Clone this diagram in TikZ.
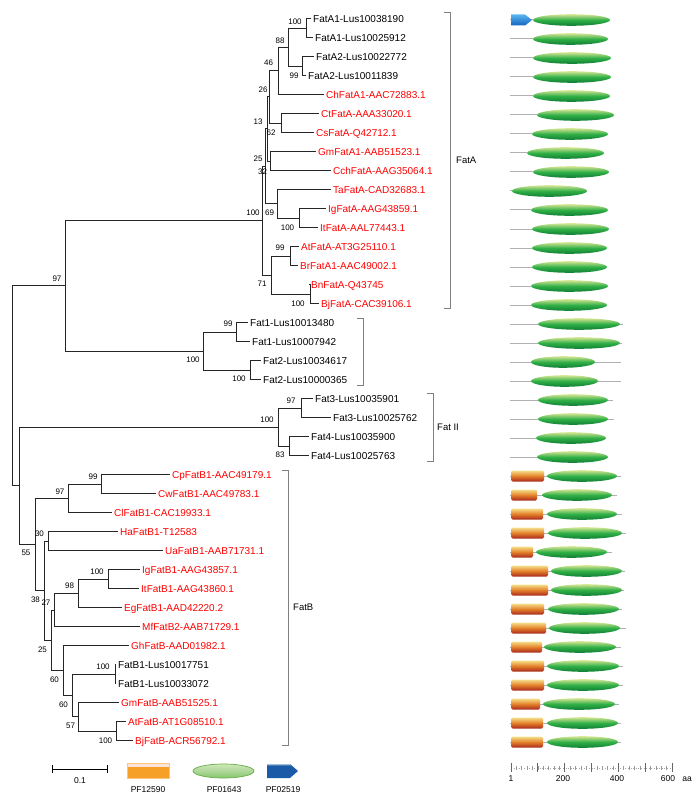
\documentclass[tikz,border=0pt]{standalone}
\usepackage{fontspec}
\setmainfont{Liberation Sans}
\usetikzlibrary{calc}
\definecolor{tred}{RGB}{255,0,0}
\definecolor{ellTop}{RGB}{214,230,150}
\definecolor{ellMid}{RGB}{48,176,70}
\definecolor{ellBot}{RGB}{16,126,52}
\definecolor{recTop}{RGB}{246,224,140}
\definecolor{recMid}{RGB}{228,128,42}
\definecolor{recBot}{RGB}{168,40,28}
\definecolor{bbgray}{RGB}{176,176,176}
\definecolor{legOr}{RGB}{247,160,40}
\definecolor{legOrTop}{RGB}{252,228,216}
\definecolor{legGrTop}{RGB}{206,232,184}
\definecolor{legGrBot}{RGB}{136,198,108}
\definecolor{legGrLine}{RGB}{104,172,72}
\definecolor{legBlue}{RGB}{27,90,166}
\definecolor{arrTop}{RGB}{90,180,240}
\definecolor{arrBot}{RGB}{20,100,190}
\newcommand\protrow[5]{%
  \draw[bb] (510,#1) -- (#2,#1);
  \shade[ellsh] ({((#3)+(#4))/2},#1) ellipse [x radius={((#4)-(#3))/2*1pt}, y radius=5.8pt];
  \ifnum#5>0 \shade[recsh] (511,{#1-5.5}) rectangle (#5,{#1+5.5});\fi
}
\begin{document}
\begin{tikzpicture}[x=1pt,y=-1pt,
  leaf/.style={anchor=west, inner xsep=2.5pt, inner ysep=0pt, font=\fontsize{10}{12}\selectfont, text height=7.2pt, text depth=0pt},
  leafr/.style={leaf, text=tred},
  bs/.style={inner sep=0pt, font=\fontsize{8}{9.6}\selectfont, text height=5.8pt, text depth=0pt},
  br/.style={draw=black!85, line width=0.8pt},
  brk/.style={draw=black!50, line width=1pt},
  clab/.style={anchor=west, inner sep=0pt, font=\fontsize{9.5}{11}\selectfont, text height=6.9pt, text depth=0pt},
  bb/.style={draw=bbgray, line width=1pt},
  ellsh/.style={top color=ellTop, bottom color=ellBot, middle color=ellMid},
  recsh/.style={top color=recTop, bottom color=recBot, middle color=recMid, rounded corners=1.5pt},
  axl/.style={inner sep=0pt, font=\fontsize{8.5}{10}\selectfont, text height=6.2pt, text depth=0pt},
  legl/.style={inner sep=0pt, font=\fontsize{8.5}{10}\selectfont, text height=6.2pt, text depth=0pt}
]
\useasboundingbox (0,0) rectangle (700,810);

% ---------- leaves ----------
\node[leaf]  (l1)  at (310.5,18.5)  {FatA1-Lus10038190};
\node[leaf]  (l2)  at (312.5,37.5)  {FatA1-Lus10025912};
\node[leaf]  (l3)  at (313.5,56.5)  {FatA2-Lus10022772};
\node[leaf]  (l4)  at (305.5,75.5)  {FatA2-Lus10011839};
\node[leafr] (l5)  at (323.5,94.5)  {ChFatA1-AAC72883.1};
\node[leafr] (l6)  at (318.5,113.5) {CtFatA-AAA33020.1};
\node[leafr] (l7)  at (313.5,132.5) {CsFatA-Q42712.1};
\node[leafr] (l8)  at (315.5,151.5) {GmFatA1-AAB51523.1};
\node[leafr] (l9)  at (330.5,170.5) {CchFatA-AAG35064.1};
\node[leafr] (l10) at (330.5,189.5) {TaFatA-CAD32683.1};
\node[leafr] (l11) at (325.5,208.5) {IgFatA-AAG43859.1};
\node[leafr] (l12) at (317.5,227.5) {ItFatA-AAL77443.1};
\node[leafr] (l13) at (298.5,246.5) {AtFatA-AT3G25110.1};
\node[leafr] (l14) at (297.5,265.5) {BrFatA1-AAC49002.1};
\node[leafr] (l15) at (308.5,284.5) {BnFatA-Q43745};
\node[leafr] (l16) at (318.5,303.5) {BjFatA-CAC39106.1};
\node[leaf]  (l17) at (247.5,322.5) {Fat1-Lus10013480};
\node[leaf]  (l18) at (249.5,341.5) {Fat1-Lus10007942};
\node[leaf]  (l19) at (260.5,360.5) {Fat2-Lus10034617};
\node[leaf]  (l20) at (260.5,379.5) {Fat2-Lus10000365};
\node[leaf]  (l21) at (312.5,398.5) {Fat3-Lus10035901};
\node[leaf]  (l22) at (330.5,417.5) {Fat3-Lus10025762};
\node[leaf]  (l23) at (308.5,436.5) {Fat4-Lus10035900};
\node[leaf]  (l24) at (308.5,455.5) {Fat4-Lus10025763};
\node[leafr] (l25) at (169.5,474.5) {CpFatB1-AAC49179.1};
\node[leafr] (l26) at (155.5,493.5) {CwFatB1-AAC49783.1};
\node[leafr] (l27) at (111.5,512.5) {ClFatB1-CAC19933.1};
\node[leafr] (l28) at (117.5,531.5) {HaFatB1-T12583};
\node[leafr] (l29) at (162.5,550.5) {UaFatB1-AAB71731.1};
\node[leafr] (l30) at (139.5,569.5) {IgFatB1-AAG43857.1};
\node[leafr] (l31) at (138.5,588.5) {ItFatB1-AAG43860.1};
\node[leafr] (l32) at (121.5,607.5) {EgFatB1-AAD42220.2};
\node[leafr] (l33) at (139.5,626.5) {MfFatB2-AAB71729.1};
\node[leafr] (l34) at (128.5,645.5) {GhFatB-AAD01982.1};
\node[leaf]  (l35) at (115.5,664.5) {FatB1-Lus10017751};
\node[leaf]  (l36) at (115.5,683.5) {FatB1-Lus10033072};
\node[leafr] (l37) at (118.5,702.5) {GmFatB-AAB51525.1};
\node[leafr] (l38) at (125.5,721.5) {AtFatB-AT1G08510.1};
\node[leafr] (l39) at (132.5,740.5) {BjFatB-ACR56792.1};

% ---------- internal nodes ----------
\coordinate (nA) at (306,28);
\coordinate (nB) at (302,66);
\coordinate (n88) at (288,47);
\coordinate (n46) at (278,70.75);
\coordinate (nC) at (281,123);
\coordinate (n26) at (269,96.9);
\coordinate (nD) at (270,161);
\coordinate (n13) at (267,128.9);
\coordinate (nE) at (299,218);
\coordinate (n69) at (277,203.75);
\coordinate (n25) at (265,166.3);
\coordinate (nF) at (290,256);
\coordinate (nG) at (310,294);
\coordinate (n71) at (271,275);
\coordinate (nFatA) at (262,220.65);
\coordinate (nH) at (236,332);
\coordinate (nI) at (250,370);
\coordinate (nFat12) at (203,351);
\coordinate (n97) at (65,285.8);
\coordinate (nJ) at (301,408);
\coordinate (nK) at (289,446);
\coordinate (nFatII) at (278,427);
\coordinate (nL) at (101,484);
\coordinate (nM) at (68,498.25);
\coordinate (nN) at (48,541);
\coordinate (nO) at (108,579);
\coordinate (nP) at (78,593.25);
\coordinate (nQ) at (54,609.9);
\coordinate (nR) at (115,674);
\coordinate (nS) at (116,731);
\coordinate (n57) at (78,716.75);
\coordinate (n60b) at (72,695.4);
\coordinate (n60a) at (63,670.4);
\coordinate (n27) at (51,640.2);
\coordinate (n38) at (44,590.6);
\coordinate (n55) at (35,544.4);
\coordinate (nZ) at (19,485.7);
\coordinate (root) at (12,385.75);

% ---------- branches ----------
\foreach \p/\c in {nA/l1.west, nA/l2.west, nB/l3.west, nB/l4.west, n88/nA, n88/nB,
  n46/n88, n46/l5.west, nC/l6.west, nC/l7.west, n26/n46, n26/nC,
  nD/l8.west, nD/l9.west, n13/n26, n13/nD, nE/l11.west, nE/l12.west,
  n69/l10.west, n69/nE, n25/n13, n25/n69, nF/l13.west, nF/l14.west,
  nG/l15.west, nG/l16.west, n71/nF, n71/nG, nFatA/n25, nFatA/n71,
  nH/l17.west, nH/l18.west, nI/l19.west, nI/l20.west, nFat12/nH, nFat12/nI,
  n97/nFatA, n97/nFat12, nJ/l21.west, nJ/l22.west, nK/l23.west, nK/l24.west,
  nFatII/nJ, nFatII/nK, nL/l25.west, nL/l26.west, nM/nL, nM/l27.west,
  nN/l28.west, nN/l29.west, nO/l30.west, nO/l31.west, nP/nO, nP/l32.west,
  nQ/nP, nQ/l33.west, nR/l35.west, nR/l36.west, nS/l38.west, nS/l39.west,
  n57/l37.west, n57/nS, n60b/nR, n60b/n57, n60a/l34.west, n60a/n60b,
  n27/nQ, n27/n60a, n38/nN, n38/n27, n55/nM, n55/n38, nZ/nFatII, nZ/n55,
  root/n97, root/nZ}
  \draw[br] (\p) |- (\c);

% ---------- bootstrap values ----------
\foreach \x/\y/\t in {295/22/100, 294/76/99, 280/40.5/88, 268.5/63/46, 263/90/26,
  258/122/13, 271/133/62, 258/159/25, 262.5/171.5/32, 253/213/100, 269.5/213/69,
  287.5/228/100, 280/248/99, 262/284/71, 298/303.5/100,
  57/279/97, 228/324/99, 193/360/100, 239/379/100,
  291/400.5/97, 267/420/100, 280/454.5/83,
  93/476.5/99, 60/491.5/97, 39.5/534/30, 26/553/55, 97/571.5/100, 69.5/586/98,
  35.5/600/38, 46/602.5/27, 42.5/650/25, 54.5/680/60, 103/666.5/100,
  63.5/705/60, 70.5/726/57, 105.5/740.5/100}
  \node[bs] at (\x,\y) {\t};

% ---------- clade brackets ----------
\draw[brk] (444,13) -- (450,13) -- (450,308) -- (444,308);
\node[clab] (labA) at (456,160) {FatA};
\draw[brk] (357,318) -- (363,318) -- (363,385) -- (357,385);
\draw[brk] (427,393) -- (433,393) -- (433,461) -- (427,461);
\node[clab] (labII) at (437,427) {Fat II};
\draw[brk] (282,470) -- (288,470) -- (288,745) -- (282,745);
\node[clab] (labB) at (293,607) {FatB};

% ---------- domain architectures ----------
\protrow{20}{533}{533}{610}{0}
\shade[top color=arrTop, bottom color=arrBot] (511,14.5) -- (525,14.5) -- (532,20) -- (525,25.5) -- (511,25.5) -- cycle;
\protrow{39}{533}{533}{608}{0}
\protrow{58}{533}{533}{611}{0}
\protrow{77}{533}{533}{611}{0}
\protrow{96}{533}{533}{610}{0}
\protrow{115}{537}{537}{614}{0}
\protrow{134}{532}{532}{608}{0}
\protrow{153}{527}{527}{604}{0}
\protrow{172}{533}{533}{609}{0}
\protrow{191}{512}{512}{587}{0}
\protrow{210}{531}{531}{608}{0}
\protrow{229}{532}{532}{609}{0}
\protrow{248}{532}{532}{607}{0}
\protrow{267}{532}{532}{607}{0}
\protrow{286}{531}{531}{608}{0}
\protrow{305}{531}{531}{607}{0}
\protrow{324}{623}{538}{620}{0}
\protrow{343}{622}{538}{620}{0}
\protrow{362}{621}{531}{595}{0}
\protrow{381}{621}{531}{598}{0}
\protrow{400}{613}{538}{608}{0}
\protrow{419}{614}{538}{608}{0}
\protrow{438}{536}{536}{606}{0}
\protrow{457}{537}{537}{608}{0}
\protrow{476}{621}{547}{617}{544}
\protrow{495}{617}{542}{612}{537}
\protrow{514}{622}{547}{617}{543}
\protrow{533}{626}{548}{622}{544}
\protrow{552}{612}{536}{607}{533}
\protrow{571}{625}{551}{622}{548}
\protrow{590}{624}{551}{622}{548}
\protrow{609}{622}{548}{619}{544}
\protrow{628}{626}{549}{620}{546}
\protrow{647}{621}{544}{616}{542}
\protrow{666}{623}{547}{619}{544}
\protrow{685}{623}{547}{619}{544}
\protrow{704}{619}{543}{615}{540}
\protrow{723}{621}{547}{618}{543}
\protrow{742}{621}{547}{618}{543}

% ---------- length axis ----------
\draw[draw=black!35, line width=0.6pt, dotted] (511,768) -- (672,768);
\foreach \k in {0,...,30}
  \draw[draw=black!40, line width=0.5pt] ({511+\k*5.366},766) -- ({511+\k*5.366},770);
\foreach \k in {0,...,6}
  \draw[draw=black!60, line width=0.9pt] ({511+\k*26.83},763) -- ({511+\k*26.83},772);
\node[axl] at (511,778) {1};
\node[axl] at (563,778) {200};
\node[axl] at (617,778) {400};
\node[axl] at (668,778) {600};
\node[axl] at (687,778) {aa};

% ---------- legend ----------
\draw[line width=0.9pt] (52,769) -- (107,769);
\draw[line width=0.9pt] (52,765) -- (52,773);
\draw[line width=0.9pt] (107,765) -- (107,773);
\node[legl] at (80,780) {0.1};

\fill[legOr] (127,763) rectangle (169,778);
\fill[legOrTop] (127,763) rectangle (169,766.5);
\draw[draw=legOr!60!white, line width=0.5pt] (127,763) rectangle (169,778);
\node[legl] at (148,789) {PF12590};

\shade[top color=legGrTop, bottom color=legGrBot, middle color=legGrBot!70!white] (223.5,771) ellipse [x radius=30.5pt, y radius=7pt];
\draw[draw=legGrLine, line width=0.7pt] (223.5,771) ellipse [x radius=30.5pt, y radius=7pt];
\node[legl] at (224,789) {PF01643};

\fill[legBlue] (267,764) -- (290,764) -- (298,771) -- (290,778) -- (267,778) -- cycle;
\fill[legBlue!40!white] (267,764) -- (290,764) -- (291.5,765.3) -- (267,765.3) -- cycle;
\node[legl] at (283,789) {PF02519};
\end{tikzpicture}
\end{document}
